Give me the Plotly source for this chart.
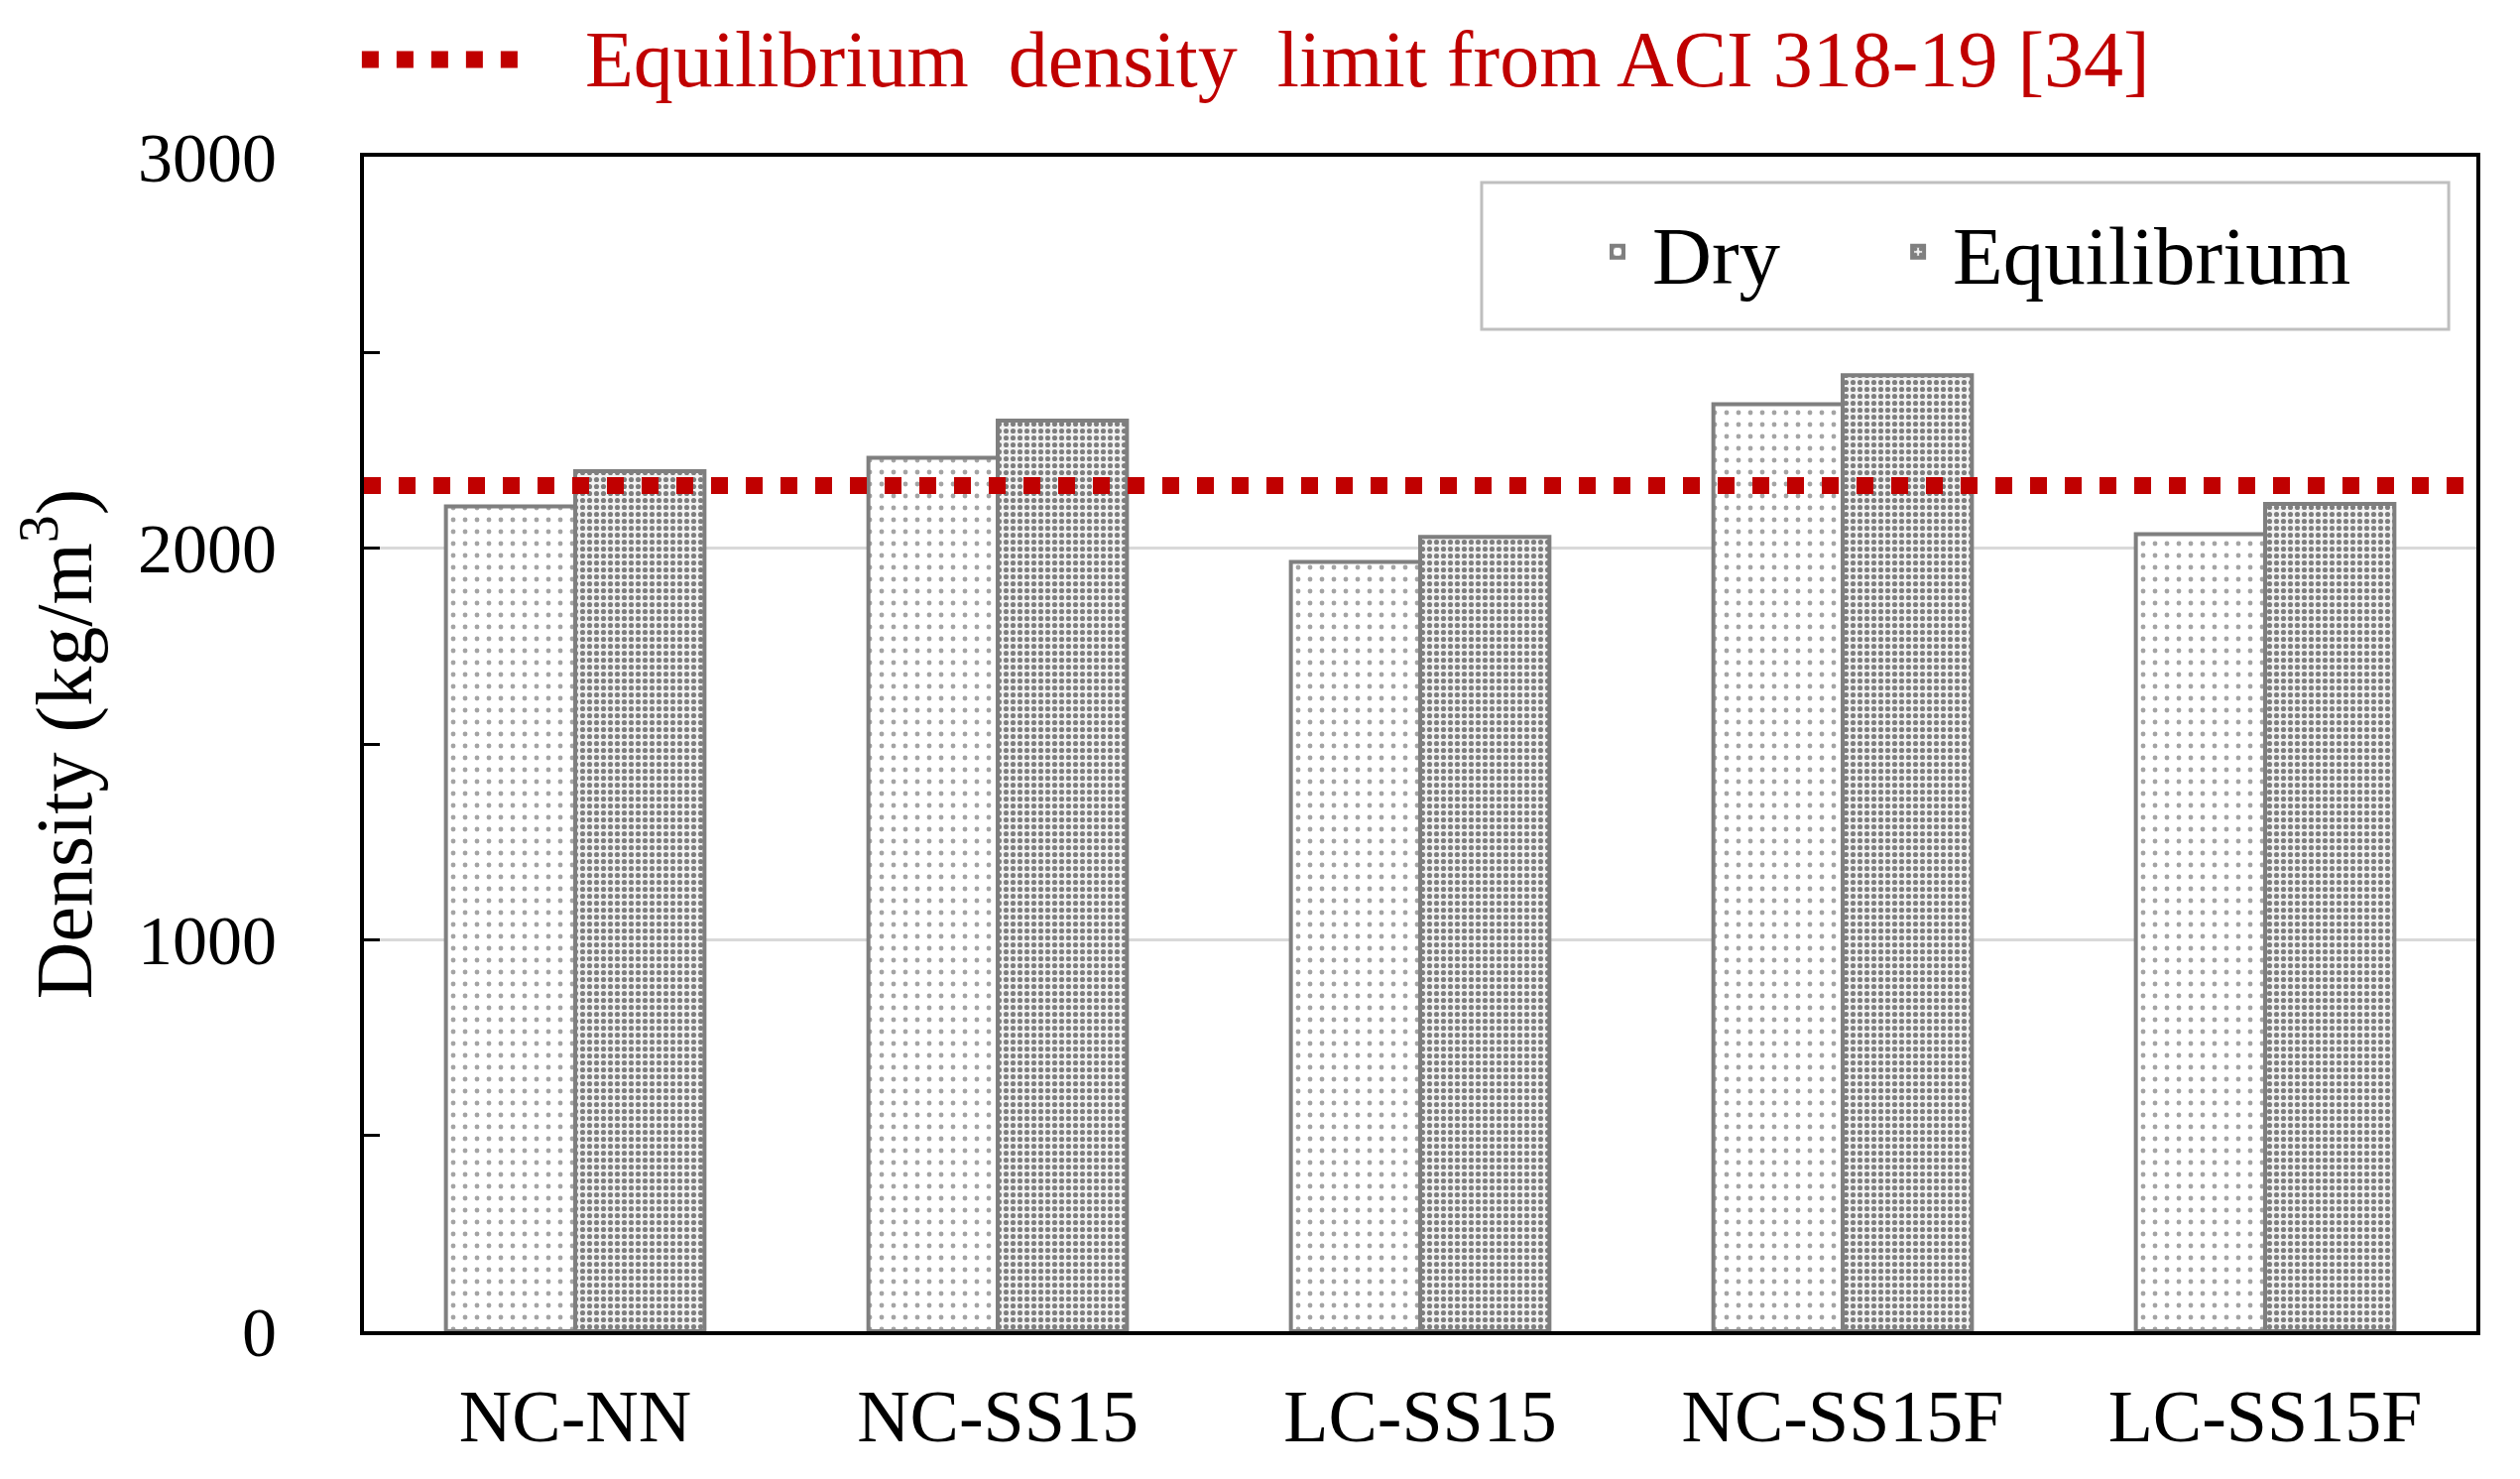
import plotly.graph_objects as go

# ---- data ----
categories = ["NC-NN", "NC-SS15", "LC-SS15", "NC-SS15F", "LC-SS15F"]
dry_density = [2107, 2231, 1965, 2368, 2036]
equilibrium_density = [2197, 2326, 2029, 2442, 2113]
aci_limit = 2160
limit_label = "Equilibrium  density  limit from ACI 318-19 [34]"
y_tick_vals = [0, 1000, 2000, 3000]
y_tick_text = ["0", "1000", "2000", "3000"]

FONT = "Liberation Serif, Times New Roman, serif"
RED = "#c00000"
DASH = "17px,18px"

fig = go.Figure()
fig.add_trace(go.Bar(
    x=categories, y=dry_density, name="Dry", legend="legend",
    marker=dict(color="white",
                line=dict(color="#7f7f7f", width=4),
                pattern=dict(shape=".", size=12, solidity=0.13,
                             fgcolor="#4a4a4a", bgcolor="white",
                             fillmode="overlay")),
))
fig.add_trace(go.Bar(
    x=categories, y=equilibrium_density, name="Equilibrium", legend="legend2",
    marker=dict(color="#e6e6e6",
                line=dict(color="#7f7f7f", width=4),
                pattern=dict(shape=".", size=7, solidity=0.42,
                             fgcolor="#7e7e7e", bgcolor="#f2f2f2",
                             fillmode="replace")),
))

# ACI limit line across the plot
fig.add_shape(type="line", xref="x domain", yref="y", x0=0, x1=1,
              y0=aci_limit, y1=aci_limit,
              line=dict(color=RED, width=17, dash=DASH), layer="above")

# legend frame (decoration)
fig.add_shape(type="rect", xref="paper", yref="paper",
              x0=0.5291, x1=0.9869, y0=0.853, y1=0.978,
              line=dict(color="#bfbfbf", width=3), fillcolor="white", layer="above")

# top "legend" for the limit line
fig.add_shape(type="line", xref="paper", yref="paper", x0=-0.001, x1=0.0728,
              y0=1.0828, y1=1.0828,
              line=dict(color=RED, width=17, dash=DASH))
fig.add_annotation(text=limit_label, xref="paper", yref="paper",
                   x=0.1038, y=1.0828, xanchor="left", yanchor="middle",
                   showarrow=False, font=dict(family=FONT, size=80, color=RED))

legend_common = dict(orientation="h", yanchor="middle", xanchor="left",
                     font=dict(family=FONT, size=83, color="black"),
                     borderwidth=0, bgcolor="rgba(0,0,0,0)", itemwidth=60)

fig.update_layout(
    width=2533, height=1483,
    margin=dict(l=359, r=44, t=150, b=149, autoexpand=False),
    paper_bgcolor="white", plot_bgcolor="white",
    barmode="group", bargap=0.388, bargroupgap=0,
    font=dict(family=FONT, color="black"),
    showlegend=True,
    legend=dict(x=0.577, y=0.919, **legend_common),
    legend2=dict(x=0.7193, y=0.919, **legend_common),
)

fig.update_xaxes(
    showline=True, linecolor="black", linewidth=4, mirror=True,
    ticks="", tickfont=dict(family=FONT, size=74, color="black"),
    ticklabelstandoff=18, showgrid=False,
)
fig.update_yaxes(
    range=[0, 3000], tickvals=y_tick_vals, ticktext=y_tick_text,
    showline=True, linecolor="black", linewidth=4, mirror=True,
    ticks="inside", ticklen=16, tickwidth=3, tickcolor="black",
    minor=dict(dtick=500, ticks="inside", ticklen=16, tickwidth=3,
               tickcolor="black", showgrid=False),
    showgrid=True, gridcolor="#d9d9d9", gridwidth=3,
    tickfont=dict(family=FONT, size=70, color="black"),
    ticklabelstandoff=70,
    title=dict(text="Density (kg/m<sup>3</sup>)", standoff=30,
               font=dict(family=FONT, size=80, color="black")),
    zeroline=False,
)

fig.write_html("out.html")
